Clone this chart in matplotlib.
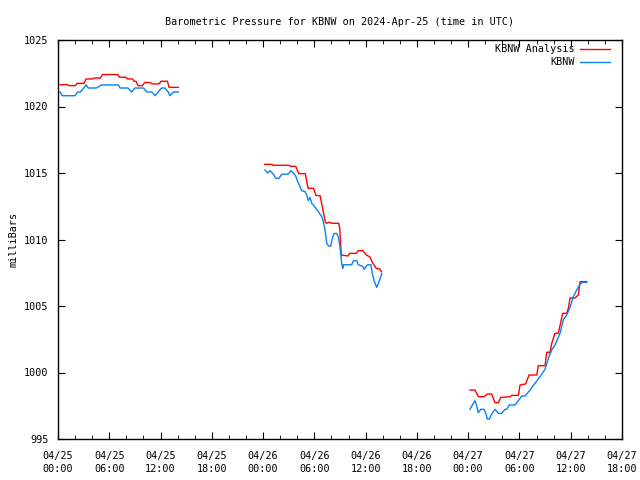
import matplotlib
matplotlib.use("Agg")
import matplotlib.pyplot as plt
from matplotlib.ticker import MultipleLocator
from matplotlib.lines import Line2D

# hours since 2024-04-25 00:00 UTC
red_h1 = [0.23, 1.11, 1.29, 2.05, 2.22, 3.04, 3.28, 4.04, 4.21, 4.97, 5.21, 7.02, 7.2, 7.96, 8.13,
          8.72, 8.9, 9.13, 9.36, 9.89, 10.12, 10.82, 11.0, 11.82, 12.05, 12.81, 12.99, 14.08]
red_p1 = [1021.64, 1021.64, 1021.57, 1021.57, 1021.74, 1021.74, 1022.07, 1022.07, 1022.14, 1022.14,
          1022.4, 1022.4, 1022.2, 1022.2, 1022.07, 1022.07, 1021.9, 1021.9, 1021.57, 1021.57,
          1021.8, 1021.8, 1021.7, 1021.7, 1021.9, 1021.9, 1021.44, 1021.44]
blue_h1 = [0.23, 0.5, 2.0, 2.3, 2.6, 2.77, 3.28, 3.55, 4.5, 5.1, 7.06, 7.26, 8.2, 8.6, 9.0, 10.0,
           10.4, 11.0, 11.35, 11.74, 12.1, 12.5, 12.9, 13.1, 13.5, 14.08]
blue_p1 = [1021.09, 1020.81, 1020.81, 1021.09, 1021.09, 1021.2, 1021.62, 1021.39, 1021.39, 1021.62,
           1021.62, 1021.39, 1021.39, 1021.09, 1021.39, 1021.39, 1021.09, 1021.09, 1020.81, 1021.09,
           1021.39, 1021.39, 1021.09, 1020.81, 1021.09, 1021.09]

red_h2 = [24.19, 25.04, 25.16, 27.03, 27.21, 27.82, 28.17, 28.94, 29.26, 29.9, 30.19, 30.66, 30.81,
          31.28, 31.4, 31.79, 31.98, 32.85, 32.97, 33.15, 33.94, 34.14, 34.91, 35.11, 35.69, 36.08,
          36.48, 36.86, 37.25, 37.65, 37.84]
red_p2 = [1015.65, 1015.65, 1015.58, 1015.58, 1015.5, 1015.5, 1014.95, 1014.95, 1013.85, 1013.85,
          1013.3, 1013.3, 1012.85, 1011.34, 1011.22, 1011.3, 1011.22, 1011.22, 1010.85, 1008.83,
          1008.76, 1008.96, 1008.96, 1009.16, 1009.16, 1008.83, 1008.7, 1008.2, 1007.83, 1007.78, 1007.58]
blue_h2 = [24.22, 24.54, 24.81, 25.2, 25.48, 25.86, 26.18, 26.95, 27.23, 27.54, 27.82, 28.05, 28.32,
           28.52, 28.91, 29.1, 29.29, 29.49, 29.69, 29.88, 30.08, 30.46, 30.86, 31.05, 31.25, 31.45,
           31.71, 31.91, 32.1, 32.3, 32.62, 32.8, 33.0, 33.2, 33.32, 33.39, 34.37, 34.56, 34.96, 35.14,
           35.61, 35.85, 36.13, 36.31, 36.63, 36.78, 37.02, 37.3, 37.57, 37.8, 37.88]
blue_p2 = [1015.23, 1015.0, 1015.17, 1014.92, 1014.6, 1014.6, 1014.9, 1014.92, 1015.17, 1015.0,
           1014.77, 1014.35, 1013.97, 1013.67, 1013.6, 1013.35, 1012.92, 1013.17, 1012.72, 1012.6,
           1012.42, 1012.1, 1011.72, 1011.34, 1010.7, 1009.7, 1009.5, 1009.5, 1010.08, 1010.45,
           1010.45, 1010.17, 1009.46, 1008.2, 1007.83, 1008.1, 1008.1, 1008.4, 1008.4, 1008.1,
           1008.0, 1007.76, 1008.05, 1008.1, 1008.1, 1007.45, 1006.83, 1006.4, 1006.83, 1007.26, 1007.45]

red_h3 = [48.21, 48.8, 49.19, 49.85, 50.24, 50.75, 51.14, 51.53, 51.81, 52.9, 53.1, 53.87, 54.07,
          54.73, 55.12, 56.02, 56.21, 56.99, 57.19, 57.58, 57.78, 58.16, 58.55, 59.06, 59.53, 59.72,
          59.92, 60.5, 60.89, 61.09, 61.87]
red_p3 = [998.68, 998.68, 998.18, 998.18, 998.38, 998.38, 997.73, 997.73, 998.13, 998.18, 998.28,
          998.28, 999.06, 999.14, 999.81, 999.81, 1000.51, 1000.51, 1001.52, 1001.52, 1002.2,
          1002.95, 1002.95, 1004.45, 1004.45, 1004.83, 1005.6, 1005.6, 1005.83, 1006.83, 1006.83]
blue_h3 = [48.21, 48.6, 48.8, 49.0, 49.19, 49.47, 49.85, 50.09, 50.24, 50.47, 50.75, 51.14, 51.53,
           51.92, 52.31, 52.51, 52.81, 53.48, 53.87, 54.27, 54.65, 55.24, 55.82, 56.41, 56.99, 57.38,
           57.78, 58.16, 58.75, 59.13, 59.53, 59.92, 60.3, 60.7, 61.09, 61.41, 61.87]
blue_p3 = [997.23, 997.68, 997.88, 997.48, 996.98, 997.23, 997.23, 996.88, 996.5, 996.5, 996.88,
           997.23, 996.93, 996.93, 997.23, 997.23, 997.56, 997.56, 997.88, 998.23, 998.23, 998.68,
           999.19, 999.69, 1000.24, 1001.06, 1001.7, 1002.07, 1002.95, 1003.95, 1004.32, 1004.9,
           1005.7, 1006.2, 1006.65, 1006.78, 1006.78]

tick_hours = [0, 6, 12, 18, 24, 30, 36, 42, 48, 54, 60, 66]
tick_labels = ["04/25\n00:00", "04/25\n06:00", "04/25\n12:00", "04/25\n18:00",
               "04/26\n00:00", "04/26\n06:00", "04/26\n12:00", "04/26\n18:00",
               "04/27\n00:00", "04/27\n06:00", "04/27\n12:00", "04/27\n18:00"]
series_names = ['KBNW Analysis', 'KBNW']

red = "#ff0000"
blue = "#0a80f5"
fs = 7.3
plt.rcParams['font.family'] = 'DejaVu Sans Mono'

fig = plt.figure(figsize=(6.4, 4.8), dpi=100)
ax = fig.add_axes([58 / 640, 41 / 480, 564 / 640, 399 / 480])

for h, p in [(red_h1, red_p1), (red_h2, red_p2), (red_h3, red_p3)]:
    ax.plot(h, p, color=red, lw=1.0)
for h, p in [(blue_h1, blue_p1), (blue_h2, blue_p2), (blue_h3, blue_p3)]:
    ax.plot(h, p, color=blue, lw=1.0)

ax.set_xlim(0, 66)
ax.set_ylim(995, 1025)
ax.set_xticks(tick_hours)
ax.set_xticklabels(tick_labels, fontsize=fs, linespacing=1.25)
ax.xaxis.set_minor_locator(MultipleLocator(2))
ax.set_yticks(range(995, 1026, 5))
ax.tick_params(axis='both', which='both', direction='in', top=True, right=True, labelsize=fs)
ax.tick_params(which='major', length=5)
ax.tick_params(which='minor', length=3)
ax.tick_params(axis='x', pad=9)
ax.tick_params(axis='y', pad=7)
for s in ax.spines.values():
    s.set_linewidth(1.0)

ax.set_ylabel('milliBars', fontsize=fs, labelpad=4)
ax.set_title('Barometric Pressure for KBNW on 2024-Apr-25 (time in UTC)', fontsize=fs, pad=11)

# gnuplot-style key: right-aligned text, sample line to the right
for i, (name, col) in enumerate(zip(series_names, [red, blue])):
    y = 1 - (9 + 13 * i) / 399
    ax.text(517 / 564, y, name, transform=ax.transAxes, ha='right', va='center', fontsize=fs)
    ax.add_line(Line2D([522 / 564, 552 / 564], [y, y], transform=ax.transAxes, color=col, lw=1.0))

fig.savefig('out.png', dpi=100)
